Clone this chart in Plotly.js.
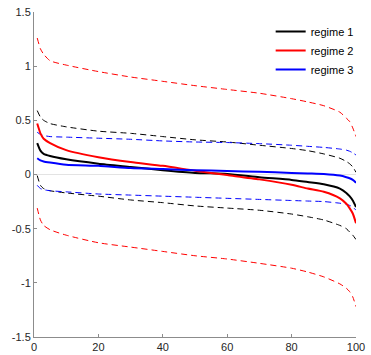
<!DOCTYPE html>
<html>
<head>
<meta charset="utf-8">
<script src="https://cdn.plot.ly/plotly-3.0.1.min.js"></script>
<style>html,body{margin:0;padding:0;background:#fff;}#chart{width:371px;height:355px;}</style>
</head>
<body>
<div id="chart"></div>
<script>
var xs = [1, 2, 3, 5, 10, 20, 30, 40, 50, 60, 70, 80, 85, 90, 95, 97, 98, 99, 100];

var regime1 = [0.29, 0.22, 0.19, 0.17, 0.14, 0.10, 0.07, 0.04, 0.015, 0.005, -0.025, -0.05, -0.07, -0.09, -0.13, -0.17, -0.20, -0.24, -0.30];
var regime1Upper = [0.59, 0.53, 0.50, 0.47, 0.44, 0.40, 0.38, 0.35, 0.32, 0.30, 0.27, 0.24, 0.22, 0.19, 0.15, 0.12, 0.10, 0.07, 0.02];
var regime1Lower = [-0.01, -0.10, -0.13, -0.15, -0.17, -0.20, -0.235, -0.26, -0.29, -0.31, -0.33, -0.365, -0.39, -0.42, -0.47, -0.50, -0.53, -0.56, -0.60];

var regime2 = [0.47, 0.38, 0.33, 0.29, 0.225, 0.16, 0.115, 0.08, 0.035, -0.005, -0.045, -0.095, -0.13, -0.16, -0.22, -0.27, -0.31, -0.36, -0.45];
var regime2Upper = [1.26, 1.16, 1.11, 1.05, 1.01, 0.95, 0.90, 0.86, 0.82, 0.785, 0.75, 0.70, 0.67, 0.635, 0.575, 0.52, 0.49, 0.43, 0.35];
var regime2Lower = [-0.31, -0.42, -0.47, -0.51, -0.56, -0.63, -0.67, -0.71, -0.75, -0.78, -0.82, -0.865, -0.90, -0.945, -1.01, -1.05, -1.08, -1.13, -1.22];

var regime3 = [0.15, 0.13, 0.12, 0.11, 0.09, 0.08, 0.06, 0.05, 0.04, 0.032, 0.025, 0.015, 0.01, 0.005, -0.01, -0.025, -0.035, -0.05, -0.075];
var regime3Upper = [0.39, 0.37, 0.36, 0.35, 0.345, 0.335, 0.325, 0.31, 0.30, 0.295, 0.285, 0.27, 0.26, 0.25, 0.235, 0.225, 0.215, 0.20, 0.18];
var regime3Lower = [-0.10, -0.13, -0.14, -0.15, -0.16, -0.18, -0.19, -0.20, -0.21, -0.22, -0.23, -0.24, -0.245, -0.25, -0.265, -0.275, -0.285, -0.30, -0.33];

var names = ['regime 1', 'regime 2', 'regime 3'];
var xTicks = [0, 20, 40, 60, 80, 100];
var yTicks = [-1.5, -1, -0.5, 0, 0.5, 1, 1.5];
var yTickText = ['-1.5', '-1', '-0.5', '0', '0.5', '1', '1.5'];

var colors = ['#000000', '#ff0000', '#0000ff'];
var mids = [regime1, regime2, regime3];
var ups = [regime1Upper, regime2Upper, regime3Upper];
var lows = [regime1Lower, regime2Lower, regime3Lower];

var traces = [];
for (var i = 0; i < 3; i++) {
  [ups[i], lows[i]].forEach(function (arr) {
    traces.push({
      x: xs, y: arr, mode: 'lines', showlegend: false, hoverinfo: 'skip',
      line: {color: colors[i], width: 1, dash: '6px,4px', shape: 'spline', smoothing: 0.6}
    });
  });
}
for (var j = 0; j < 3; j++) {
  traces.push({
    x: xs, y: mids[j], mode: 'lines', name: names[j],
    line: {color: colors[j], width: 2, shape: 'spline', smoothing: 0.6}
  });
}

var layout = {
  width: 371, height: 355,
  margin: {l: 34, r: 13, t: 12, b: 18, pad: 0},
  paper_bgcolor: '#ffffff', plot_bgcolor: '#ffffff',
  font: {family: 'Liberation Sans, Arial, sans-serif', size: 11, color: '#262626'},
  showlegend: true,
  legend: {
    x: 0.735, y: 0.985, xanchor: 'left', yanchor: 'top',
    bgcolor: 'rgba(255,255,255,0)', borderwidth: 0,
    font: {family: 'Liberation Sans, Arial, sans-serif', size: 11, color: '#000'},
    itemwidth: 30, tracegroupgap: 0
  },
  xaxis: {
    range: [0, 100], tickvals: xTicks, ticktext: xTicks.map(String),
    showgrid: false, zeroline: false,
    showline: true, linecolor: '#8c8c8c', linewidth: 1,
    ticks: 'inside', ticklen: 3, tickcolor: '#8c8c8c',
    tickfont: {size: 11, color: '#262626'}, mirror: false
  },
  yaxis: {
    range: [-1.5, 1.5], tickvals: yTicks, ticktext: yTickText,
    showgrid: false, zeroline: true, zerolinecolor: '#e3e3e3', zerolinewidth: 1,
    showline: true, linecolor: '#8c8c8c', linewidth: 1,
    ticks: 'inside', ticklen: 3, tickcolor: '#8c8c8c',
    tickfont: {size: 11, color: '#262626'}, mirror: false
  }
};

Plotly.newPlot('chart', traces, layout, {staticPlot: true, displayModeBar: false});
</script>
</body>
</html>
